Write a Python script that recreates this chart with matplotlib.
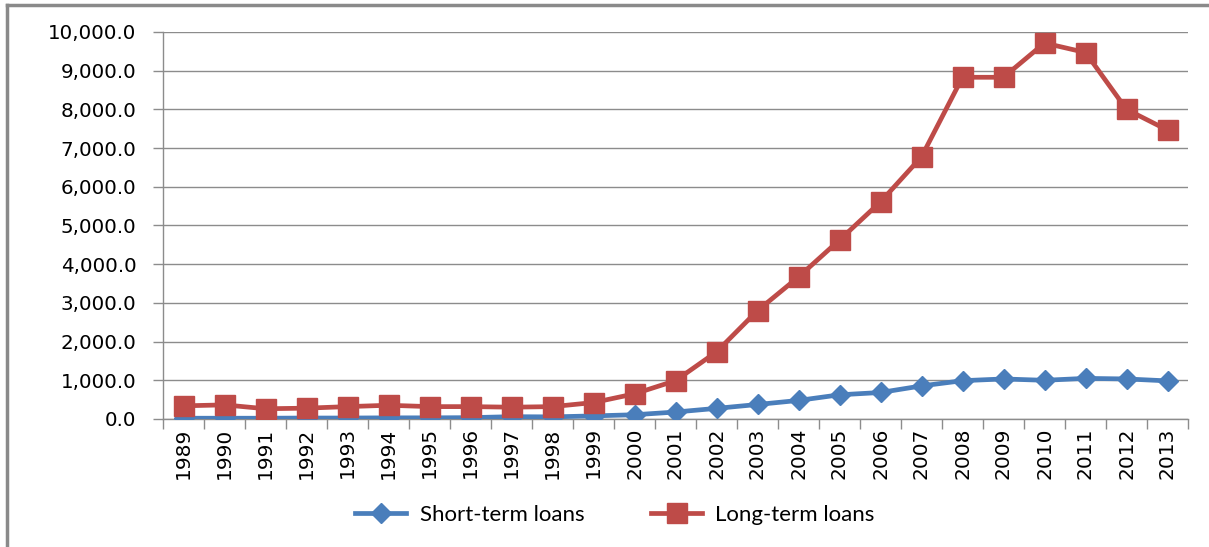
import numpy as np
import matplotlib.pyplot as plt
from matplotlib.lines import Line2D
from matplotlib.ticker import FuncFormatter, FixedLocator

years = list(range(1989, 2014))
short_term = [20, 20, 20, 25, 25, 30, 30, 35, 60, 55, 80, 110, 180, 275, 375,
              480, 625, 685, 855, 990, 1035, 1000, 1050, 1035, 985]
long_term = [340, 365, 265, 280, 320, 355, 320, 320, 305, 320, 425, 650, 990,
             1735, 2800, 3670, 4625, 5610, 6775, 8830, 8830, 9715, 9470, 8000, 7465]

BLUE = "#4a7ebb"
RED = "#be4b48"
GRID = "#8c8c8c"

plt.rcParams["font.family"] = ["DejaVu Sans"]

fig = plt.figure(figsize=(12.09, 5.47), dpi=100)
ax = fig.add_axes([163 / 1209, 1 - 419 / 547, (1188 - 163) / 1209, (419 - 32) / 547])

x = np.arange(len(years))
ax.plot(x, short_term, color=BLUE, lw=3.4, marker="D", ms=10.5,
        markeredgecolor=BLUE, label="Short-term loans", zorder=3)
ax.plot(x, long_term, color=RED, lw=3.4, marker="s", ms=14.5,
        markeredgecolor=RED, label="Long-term loans", zorder=4)

ax.set_xlim(-0.5, len(years) - 0.5)
ax.set_ylim(0, 10000)
ax.set_yticks(np.arange(0, 10001, 1000))
ax.yaxis.set_major_formatter(FuncFormatter(lambda v, _: f"{v:,.1f}"))
ax.grid(axis="y", color=GRID, lw=1)
ax.set_axisbelow(True)

# year labels at category centres, tick marks between categories
ax.set_xticks(x)
ax.set_xticklabels([str(y) for y in years], rotation=90)
ax.xaxis.set_minor_locator(FixedLocator(np.arange(-0.5, len(years), 1)))
ax.tick_params(axis="x", which="major", length=0, pad=6, labelsize=14.5)
ax.tick_params(axis="x", which="minor", length=7, color=GRID, width=1)
ax.tick_params(axis="y", length=7, color=GRID, width=1, labelsize=14.3, pad=12)

for side in ("top", "right"):
    ax.spines[side].set_visible(False)
for side in ("left", "bottom"):
    ax.spines[side].set_color(GRID)
    ax.spines[side].set_linewidth(1)

fig.legend(loc="center", bbox_to_anchor=(615 / 1209, 1 - 515 / 547), ncol=2,
           frameon=False, prop={"family": ["Lato", "DejaVu Sans"], "size": 16},
           handlelength=2.3, columnspacing=3.0, handletextpad=0.6)

# outer chart frame (left and top edges)
fig.add_artist(Line2D([7 / 1209, 7 / 1209], [0, 1 - 5 / 547], transform=fig.transFigure,
                      color="#8a8a8a", lw=2.5))
fig.add_artist(Line2D([7 / 1209, 1], [1 - 5 / 547, 1 - 5 / 547], transform=fig.transFigure,
                      color="#8a8a8a", lw=2.5))

fig.savefig("out.png", dpi=100)
